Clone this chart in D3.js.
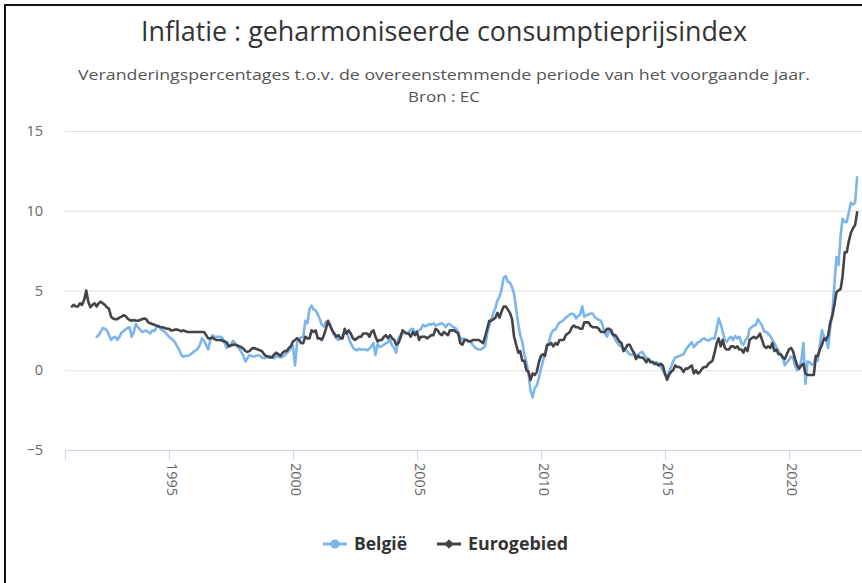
<!DOCTYPE html>
<html><head><meta charset="utf-8">
<script src="https://cdn.jsdelivr.net/npm/d3@7"></script>
<style>body{margin:0;background:#fff;overflow:hidden}</style>
</head><body>
<svg id="chart" width="862" height="583"></svg>
<script>
const titleText = "Inflatie : geharmoniseerde consumptieprijsindex";
const subtitleLines = ["Veranderingspercentages t.o.v. de overeenstemmende periode van het voorgaande jaar.", "Bron : EC"];
const seriesNames = ["België", "Eurogebied"];
const seriesColors = ["#7cb5ec", "#434348"];
const belgieStart = [1992, 0];
const eurogebiedStart = [1991, 0];
// België: monthly, Jan 1992 - Sep 2022
const belgie = [
  2.1,2.2,2.4,2.65,2.6,2.5,2.2,1.9,2.05,2.1,1.9,2.1,
  2.35,2.45,2.55,2.65,2.7,2.1,2.4,2.9,2.7,2.55,2.4,2.45,
  2.5,2.4,2.3,2.5,2.45,2.7,2.8,2.6,2.5,2.4,2.25,2.1,
  2.0,1.9,1.75,1.5,1.3,0.95,0.85,0.9,0.9,0.95,1.05,1.15,
  1.25,1.35,1.6,2.0,1.85,1.6,1.3,1.9,2.2,2.1,2.1,2.1,
  2.1,2.0,1.7,1.4,1.5,1.6,1.85,1.7,1.55,1.35,1.15,0.9,
  0.55,0.75,0.95,0.9,0.85,0.9,0.95,0.9,0.8,0.75,0.8,0.85,
  0.9,0.8,0.75,0.9,0.85,0.8,0.85,0.95,1.05,1.2,1.35,1.55,
  0.3,1.7,2.0,2.05,2.1,3.1,2.95,3.85,4.05,3.8,3.75,3.5,
  3.2,2.85,2.75,3.05,2.85,2.85,2.5,2.2,2.0,1.9,2.0,2.2,
  2.35,2.4,2.0,1.7,1.45,1.3,1.25,1.35,1.3,1.3,1.3,1.25,
  1.35,1.5,1.7,0.95,1.65,1.45,1.5,1.6,1.7,1.75,1.9,1.55,
  1.4,1.1,2.0,2.2,2.3,2.35,2.3,2.4,2.55,2.6,2.4,2.45,
  2.5,2.6,2.85,2.75,2.8,2.9,2.85,2.95,2.8,2.85,2.9,2.95,
  2.85,2.7,2.9,2.9,2.75,2.7,2.6,2.4,1.9,2.0,1.95,1.9,
  1.85,1.8,1.6,1.45,1.35,1.3,1.3,1.4,1.5,2.3,2.8,3.2,
  3.6,3.9,4.4,4.6,5.1,5.8,5.9,5.55,5.5,5.2,4.8,3.8,
  2.9,2.2,1.8,1.0,0.5,-0.2,-1.3,-1.7,-1.1,-0.95,-0.5,0.1,
  0.6,1.1,1.5,1.8,2.3,2.5,2.55,2.8,3.0,3.05,3.15,3.3,
  3.4,3.5,3.55,3.5,3.25,3.4,3.5,4.0,3.35,3.45,3.5,3.55,
  3.55,3.35,3.25,3.15,3.1,2.75,2.3,2.1,2.5,2.3,2.2,1.9,
  1.7,1.55,1.5,1.35,1.25,1.15,1.0,0.95,1.05,0.95,0.95,1.1,
  1.15,0.95,0.8,0.7,0.6,0.55,0.5,0.5,0.4,0.2,0.0,-0.3,
  -0.4,-0.1,0.2,0.55,0.8,0.85,0.9,0.95,1.0,1.25,1.45,1.6,
  1.75,1.45,1.6,1.75,1.8,1.95,2.0,1.9,1.85,1.95,2.0,2.0,
  2.6,3.25,2.9,2.4,1.9,1.8,2.0,2.1,1.9,2.15,2.0,2.1,
  1.7,1.6,1.9,2.0,2.6,2.7,2.8,2.85,3.2,3.0,2.8,2.45,
  2.4,2.3,2.15,1.9,1.7,1.45,1.2,1.0,0.85,0.3,0.5,0.65,
  0.85,0.8,0.3,0.0,0.2,0.6,1.7,-0.85,0.55,0.5,0.35,0.4,
  0.9,0.6,1.6,2.5,2.1,1.9,1.4,2.7,3.6,5.4,7.1,6.6,
  8.5,9.5,9.3,9.3,9.9,10.5,10.4,10.5,12.1
];
// Eurogebied: monthly, Jan 1991 - Sep 2022
const eurogebied = [
  4.0,4.1,4.0,4.0,4.2,4.1,4.4,5.0,4.3,3.95,4.1,4.2,
  4.0,4.2,4.3,4.2,4.1,3.95,3.85,3.35,3.25,3.2,3.2,3.3,
  3.35,3.45,3.4,3.25,3.15,3.1,3.15,3.1,3.1,3.15,3.2,3.25,
  3.2,3.0,2.95,2.9,2.85,2.8,2.75,2.7,2.7,2.65,2.6,2.6,
  2.5,2.5,2.55,2.55,2.5,2.45,2.5,2.45,2.4,2.4,2.4,2.4,
  2.4,2.4,2.4,2.4,2.4,2.2,2.0,2.0,2.05,1.95,1.9,1.9,
  1.9,1.85,1.8,1.75,1.5,1.55,1.6,1.6,1.55,1.5,1.45,1.35,
  1.2,1.15,1.2,1.35,1.4,1.35,1.3,1.25,1.2,1.0,0.9,0.85,
  0.8,0.8,1.0,1.1,1.0,0.9,1.1,1.2,1.2,1.4,1.5,1.8,
  1.9,2.0,1.9,1.7,1.7,2.1,2.0,2.0,2.5,2.4,2.5,2.0,
  2.0,1.9,2.2,2.6,3.1,2.8,2.5,2.3,2.1,2.2,2.0,2.0,
  2.6,2.3,2.5,2.3,2.0,1.9,2.0,2.1,2.1,2.3,2.3,2.3,
  2.1,2.4,2.5,2.1,1.8,1.9,1.9,2.1,2.2,2.0,2.2,2.0,
  1.9,1.6,1.7,2.0,2.5,2.4,2.3,2.3,2.1,2.4,2.2,2.4,
  1.9,2.1,2.1,2.1,2.0,2.1,2.2,2.2,2.6,2.5,2.3,2.2,
  2.4,2.3,2.2,2.5,2.5,2.5,2.4,2.3,1.7,1.6,1.9,1.9,
  1.8,1.8,1.9,1.9,1.9,1.9,1.8,1.7,2.1,2.6,3.1,3.1,
  3.2,3.3,3.6,3.3,3.7,4.0,4.0,3.8,3.6,3.2,2.1,1.6,
  1.1,1.2,0.6,0.6,0.0,-0.1,-0.6,-0.2,-0.3,-0.1,0.5,0.9,
  1.0,0.9,1.6,1.6,1.7,1.5,1.7,1.6,1.9,1.9,1.9,2.2,
  2.3,2.4,2.7,2.8,2.7,2.7,2.6,2.6,3.0,3.0,3.0,2.8,
  2.7,2.7,2.7,2.6,2.4,2.4,2.4,2.6,2.6,2.5,2.2,2.2,
  2.0,1.8,1.7,1.2,1.4,1.6,1.6,1.3,1.1,0.7,0.9,0.8,
  0.8,0.7,0.5,0.7,0.5,0.5,0.4,0.4,0.3,0.4,0.3,-0.2,
  -0.6,-0.3,-0.1,0.0,0.3,0.2,0.2,0.1,-0.1,0.1,0.1,0.2,
  0.3,-0.2,0.0,-0.2,-0.1,0.1,0.2,0.2,0.4,0.5,0.6,1.1,
  1.7,2.0,1.5,1.9,1.4,1.3,1.3,1.5,1.5,1.4,1.5,1.3,
  1.3,1.1,1.4,1.2,1.9,2.0,2.1,2.0,2.1,2.3,1.9,1.5,
  1.4,1.5,1.4,1.7,1.2,1.3,1.0,1.0,0.8,0.7,1.0,1.3,
  1.4,1.2,0.7,0.3,0.1,0.3,0.4,-0.2,-0.3,-0.3,-0.3,-0.3,
  0.9,0.9,1.3,1.6,2.0,1.9,2.2,3.0,3.4,4.1,4.9,5.0,
  5.1,5.9,7.4,7.4,8.1,8.6,8.9,9.1,9.9
];
const yTicks = [-5, 0, 5, 10, 15];
const xTickYears = [1995, 2000, 2005, 2010, 2015, 2020];

const FONT = "'Open Sans', 'DejaVu Sans', sans-serif";
const svg = d3.select("#chart");
svg.append("rect").attr("width", 862).attr("height", 583).attr("fill", "#fff");

// frame (cropped screenshot border)
svg.append("path").attr("d", "M5,583 V5 H862").attr("fill", "none").attr("stroke", "#111").attr("stroke-width", 2);

const plot = {left: 65, right: 862, top: 131, bottom: 450};
const x = d3.scaleTime().domain([new Date(1990, 9, 22), new Date(2022, 11, 11)]).range([plot.left, plot.right]);
const y = d3.scaleLinear().domain([-5, 15]).range([plot.bottom, plot.top]);

function toPoints(values, start) {
  return values.map((v, i) => ({date: new Date(start[0], start[1] + i + 1, 0), value: v}));
}
const series = [
  {name: seriesNames[0], color: seriesColors[0], data: toPoints(belgie, belgieStart)},
  {name: seriesNames[1], color: seriesColors[1], data: toPoints(eurogebied, eurogebiedStart)}
];

function fit(sel, target) {
  const w = sel.node().getComputedTextLength();
  const fs = parseFloat(sel.attr("font-size"));
  sel.attr("font-size", (fs * target / w).toFixed(2));
}

// titles
const t = svg.append("text").attr("x", 444).attr("y", 41).attr("text-anchor", "middle")
  .attr("font-family", FONT).attr("font-size", 22).attr("fill", "#333").text(titleText);
fit(t, 606);
svg.append("text").attr("x", 444).attr("y", 80).attr("text-anchor", "middle")
  .attr("font-family", FONT).attr("font-size", 14.5).attr("fill", "#555")
  .attr("textLength", 732).attr("lengthAdjust", "spacingAndGlyphs").text(subtitleLines[0]);
svg.append("text").attr("x", 444).attr("y", 102).attr("text-anchor", "middle")
  .attr("font-family", FONT).attr("font-size", 14.5).attr("fill", "#555")
  .attr("textLength", 72).attr("lengthAdjust", "spacingAndGlyphs").text(subtitleLines[1]);

// y grid + labels
const yAxis = svg.append("g").attr("transform", `translate(${plot.left},0)`)
  .call(d3.axisLeft(y).tickValues(yTicks).tickSize(-(plot.right - plot.left)).tickFormat(d => d < 0 ? "\u2212" + Math.abs(d) : d));
yAxis.select(".domain").remove();
yAxis.selectAll(".tick line").attr("stroke", "#e0e0e0").attr("stroke-width", 1);
yAxis.selectAll(".tick text").attr("x", -22).attr("font-family", FONT).attr("font-size", 14.5).attr("fill", "#666");

// x axis
const xAxis = svg.append("g").attr("transform", `translate(0,${plot.bottom})`)
  .call(d3.axisBottom(x).tickValues(xTickYears.map(yr => new Date(yr, 0, 1))).tickSize(10).tickFormat(d3.timeFormat("%Y")));
xAxis.select(".domain").attr("stroke", "#ccd6eb").attr("stroke-width", 1);
xAxis.selectAll(".tick line").attr("stroke", "#ccd6eb");
xAxis.selectAll(".tick text")
  .attr("font-family", FONT).attr("font-size", 14.5).attr("fill", "#666")
  .attr("text-anchor", "start").attr("dy", null)
  .attr("transform", "translate(-3,13) rotate(90)").attr("x", 0).attr("y", 0);

// lines
const line = d3.line().x(d => x(d.date)).y(d => y(d.value)).curve(d3.curveLinear);
series.forEach(s => {
  svg.append("path").datum(s.data).attr("d", line).attr("fill", "none")
    .attr("stroke", s.color).attr("stroke-width", 2.6).attr("stroke-linejoin", "round").attr("stroke-linecap", "round");
});

// legend
const legendY = 544;
const lg = svg.append("g");
const l1 = lg.append("g");
l1.append("line").attr("x1", 323).attr("x2", 347).attr("y1", legendY).attr("y2", legendY).attr("stroke", seriesColors[0]).attr("stroke-width", 3);
l1.append("circle").attr("cx", 335).attr("cy", legendY).attr("r", 4.5).attr("fill", seriesColors[0]);
const lt1 = l1.append("text").attr("x", 354).attr("y", legendY + 5.5).attr("font-family", FONT).attr("font-weight", "bold")
  .attr("font-size", 15).attr("fill", "#333").text(seriesNames[0]);
fit(lt1, 53);
const l2 = lg.append("g");
l2.append("line").attr("x1", 437).attr("x2", 461).attr("y1", legendY).attr("y2", legendY).attr("stroke", seriesColors[1]).attr("stroke-width", 3);
l2.append("path").attr("d", d3.symbol(d3.symbolDiamond2, 60)()).attr("transform", `translate(449,${legendY})`).attr("fill", seriesColors[1]);
const lt2 = l2.append("text").attr("x", 468).attr("y", legendY + 5.5).attr("font-family", FONT).attr("font-weight", "bold")
  .attr("font-size", 15).attr("fill", "#333").text(seriesNames[1]);
fit(lt2, 100);
</script>
</body></html>
